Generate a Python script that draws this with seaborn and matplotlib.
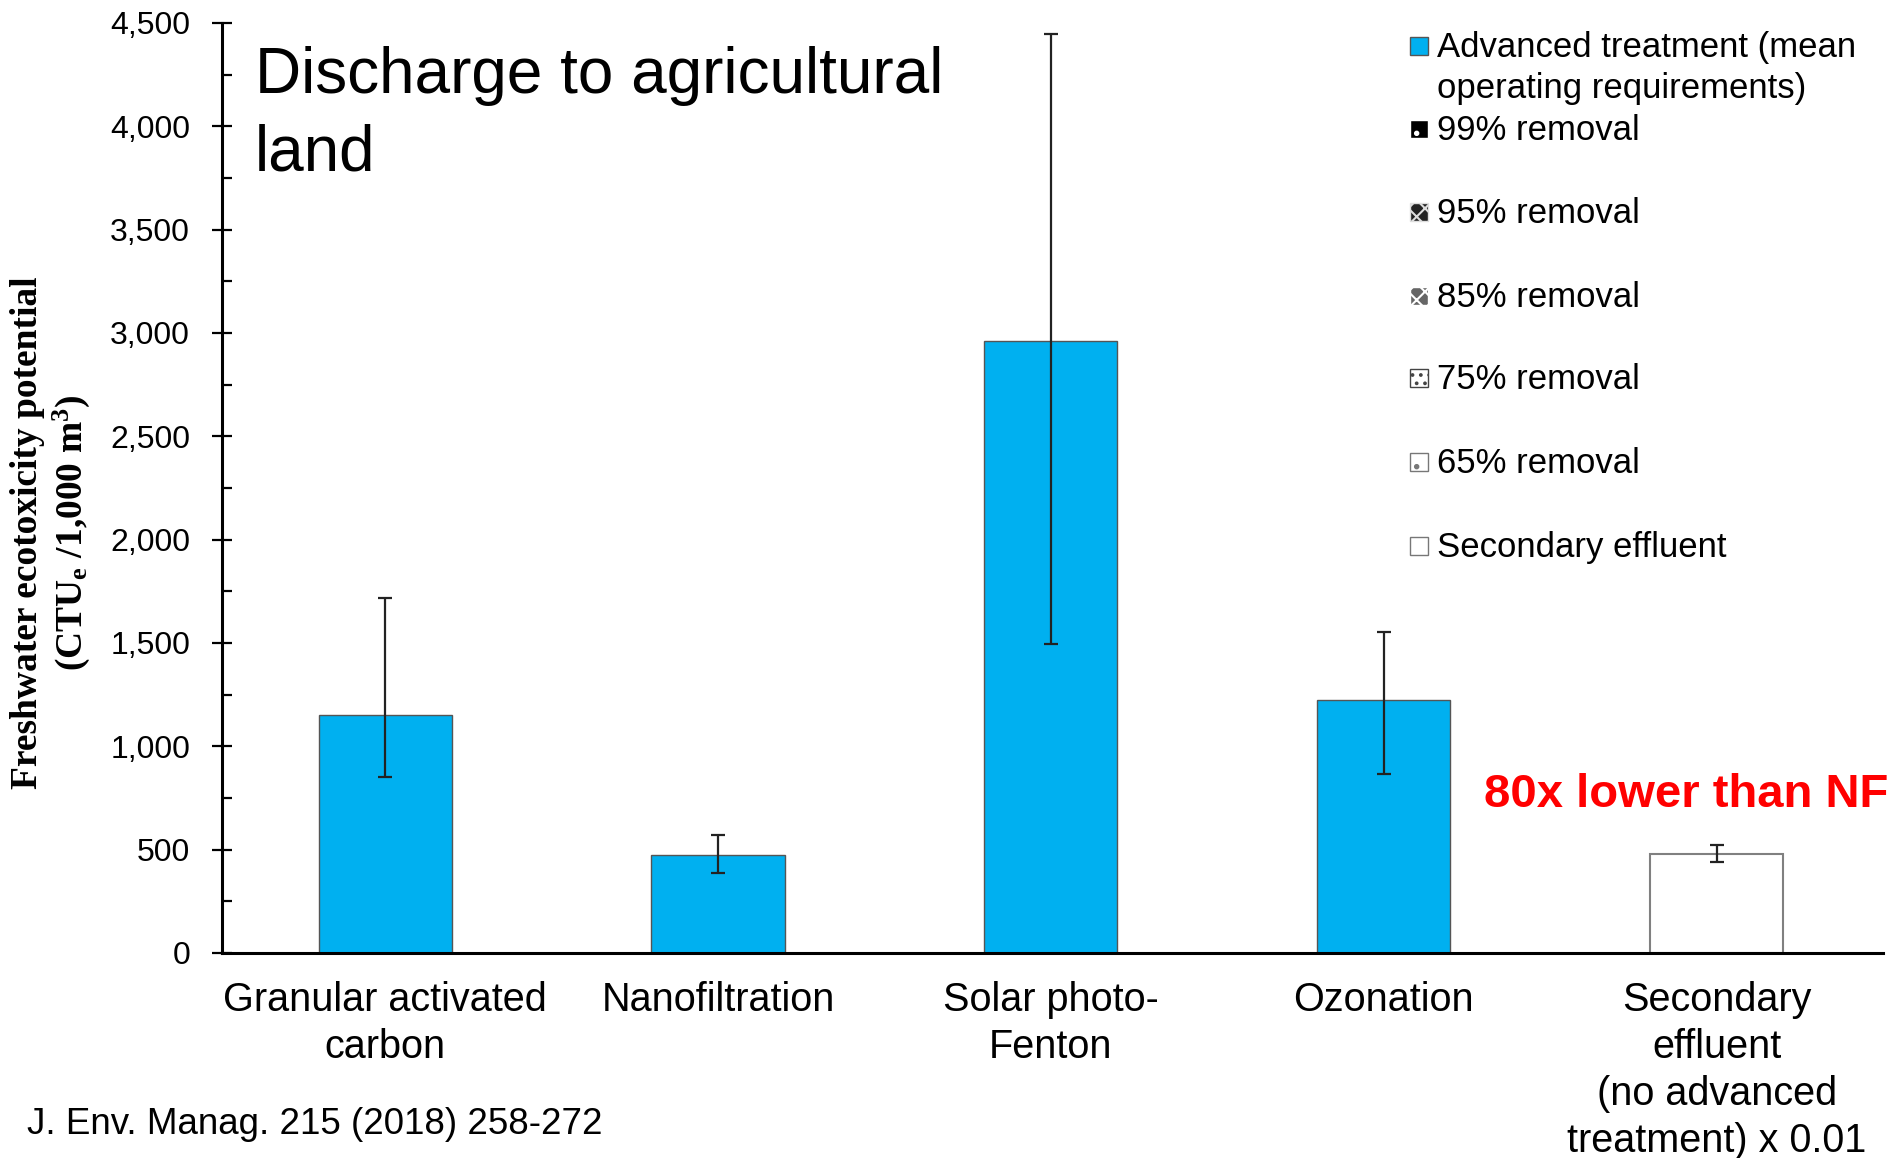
import matplotlib
matplotlib.use("Agg")
import matplotlib.pyplot as plt
from matplotlib.patches import Rectangle
from matplotlib.ticker import MultipleLocator, FuncFormatter
import seaborn as sns

# Data
categories = ["Granular activated\ncarbon", "Nanofiltration", "Solar photo-\nFenton",
              "Ozonation", "Secondary\neffluent\n(no advanced\ntreatment) x 0.01"]
values = [1150, 475, 2963, 1226, 481]
err_low = [851, 387, 1496, 868, 440]
err_high = [1719, 569, 4447, 1555, 522]
bar_colors = ["#00B0F0", "#00B0F0", "#00B0F0", "#00B0F0", "#FFFFFF"]

legend_labels = ["Advanced treatment (mean\noperating requirements)", "99% removal",
                 "95% removal", "85% removal", "75% removal", "65% removal",
                 "Secondary effluent"]

sns.set_theme(style="white")
plt.rcParams["font.family"] = ["Liberation Sans", "DejaVu Sans"]
plt.rcParams["text.color"] = "black"
plt.rcParams["axes.labelcolor"] = "black"
plt.rcParams["xtick.color"] = "black"
plt.rcParams["ytick.color"] = "black"
plt.rcParams["mathtext.fontset"] = "custom"
plt.rcParams["mathtext.rm"] = "Liberation Serif:bold"
plt.rcParams["mathtext.it"] = "Liberation Serif:bold"
plt.rcParams["mathtext.bf"] = "Liberation Serif:bold"
plt.rcParams["hatch.linewidth"] = 1.5

W, H = 1901, 1158
fig = plt.figure(figsize=(W / 100, H / 100), dpi=100)
fig.patch.set_facecolor("white")
ax = fig.add_axes([222 / W, 1 - 953 / H, (1883 - 222) / W, (953 - 23) / H])

xpos = list(range(len(categories)))
sns.barplot(x=categories, y=values, hue=categories, palette=bar_colors, legend=False,
            width=0.4, saturation=1, edgecolor="#555555", linewidth=1.0, ax=ax,
            errorbar=None)
for p, c in zip(ax.patches, bar_colors):
    if c == "#FFFFFF":
        p.set_edgecolor("#808080")
        p.set_linewidth(1.5)

yerr = [[v - lo for v, lo in zip(values, err_low)],
        [hi - v for v, hi in zip(values, err_high)]]
ax.errorbar(xpos, values, yerr=yerr, fmt="none", ecolor="#222222",
            elinewidth=1.6, capsize=5, capthick=1.6, zorder=5)

ax.set_xlim(-0.49, 4.5)
ax.set_ylim(0, 4500)
ax.yaxis.set_major_locator(MultipleLocator(500))
ax.yaxis.set_minor_locator(MultipleLocator(250))
ax.yaxis.set_major_formatter(FuncFormatter(lambda v, _: f"{int(v):,}"))
ax.tick_params(axis="y", which="major", direction="inout", length=14, width=1.6,
               labelsize=23, pad=16, color="black", left=True)
ax.tick_params(axis="y", which="minor", direction="in", length=7, width=1.6,
               color="black", left=True)
ax.set_xticks(xpos)
ax.set_xticklabels(categories)
ax.tick_params(axis="x", length=0, labelsize=28.5, pad=20)
for lbl in ax.get_xticklabels():
    lbl.set_linespacing(1.3)

for s in ["top", "right"]:
    ax.spines[s].set_visible(False)
for s in ["left", "bottom"]:
    ax.spines[s].set_color("black")
    ax.spines[s].set_linewidth(2.2)
ax.grid(False)
ax.set_xlabel("")
ax.set_ylabel("")

# Y-axis title (two lines, serif bold)
fig.text(51 / W, 1 - 533 / H,
         "Freshwater ecotoxicity potential\n(CTU$_\\mathrm{e}$ /1,000 m$^\\mathrm{3}$)",
         family=["Liberation Serif"], fontweight="bold", fontsize=27,
         rotation=90, ha="center", va="center", linespacing=1.2)

# Title and annotations
fig.text(255 / W, 1 - 115 / H, "Discharge to agricultural\nland", fontsize=46,
         ha="left", va="center", linespacing=1.38)
ax.text(3.91, 763, "80x lower than NF", color="#FF0000", fontsize=34,
        fontweight="bold", ha="center", va="center")
fig.text(27 / W, 1 - 1125 / H, "J. Env. Manag. 215 (2018) 258-272", fontsize=26.5,
         ha="left", va="center")

# Legend entries
legend_styles = [
    dict(facecolor="#00B0F0", edgecolor="#555555", hatch=None),
    dict(facecolor="#000000", edgecolor="#FFFFFF", hatch="."),
    dict(facecolor="#222222", edgecolor="#DDDDDD", hatch="xx"),
    dict(facecolor="#666666", edgecolor="#FFFFFF", hatch="xx"),
    dict(facecolor="#FFFFFF", edgecolor="#444444", hatch=".."),
    dict(facecolor="#FFFFFF", edgecolor="#777777", hatch="."),
    dict(facecolor="#FFFFFF", edgecolor="#777777", hatch=None),
]
entry_y = [46, 128.5, 212, 296, 378, 462, 546]
sq = 18
for lab, style, yc in zip(legend_labels, legend_styles, entry_y):
    rect = Rectangle((1410 / W, 1 - (yc + sq / 2) / H), sq / W, sq / H,
                     transform=fig.transFigure, facecolor=style["facecolor"],
                     edgecolor=style["edgecolor"], hatch=style["hatch"],
                     linewidth=1.0)
    fig.add_artist(rect)
    fig.text(1437 / W, 1 - (yc - 15) / H, lab, fontsize=25, ha="left", va="top",
             linespacing=1.32)

fig.savefig("out.png", dpi=100, facecolor="white")
